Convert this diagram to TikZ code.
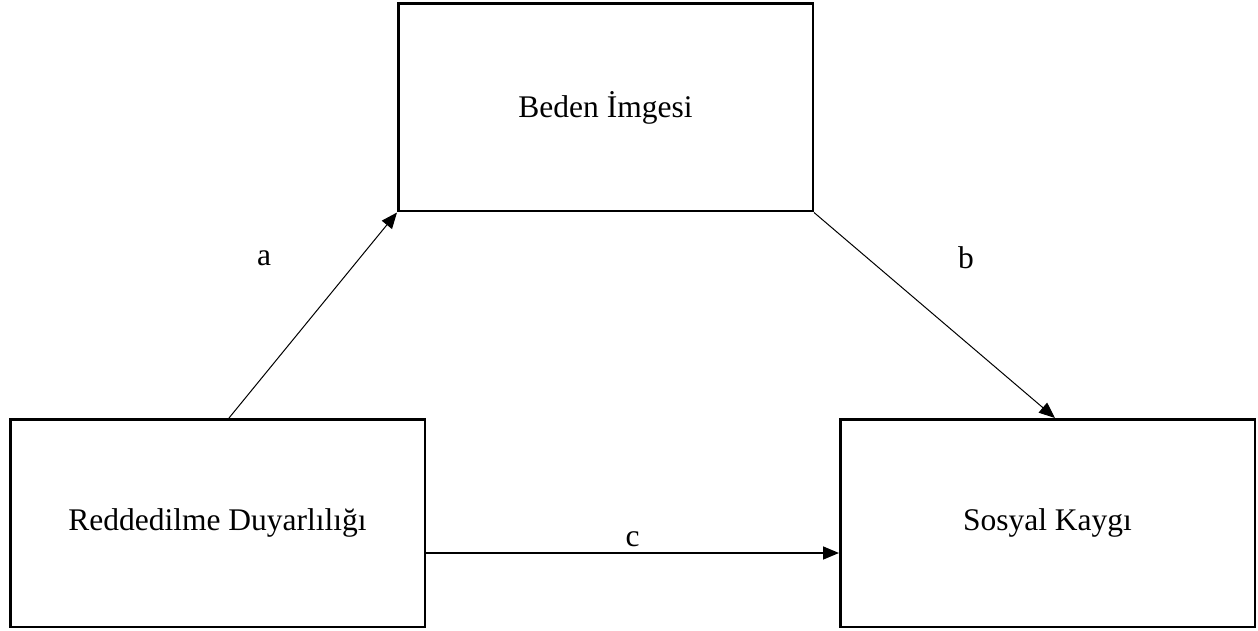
\documentclass[tikz,border=0pt]{standalone}
\usepackage{fontspec}
\setmainfont{Liberation Serif}
\usepackage{tikz}
\usetikzlibrary{positioning}
\usetikzlibrary{arrows.meta}
\tikzset{varbox/.style={draw, line width=2.5pt, rectangle, inner sep=0pt, minimum width=414.5pt, minimum height=207.5pt, font=\fontsize{31.5}{38}\selectfont},
  path/.style={->, >={Triangle[length=16pt, width=13pt]}, line width=1pt},
  plabel/.style={font=\fontsize{31.5}{38}\selectfont}}

\begin{document}
\begin{tikzpicture}[x=1pt, y=-1pt]
  \useasboundingbox (0, 0) rectangle (1258, 631);

  % variables
  \node (beden) at (605.5, 107.5) [varbox] {Beden İmgesi};
  \node (redd) at (217.5, 523) [varbox] {Reddedilme Duyarlılığı};
  \node (sosyal) at (1047.5, 523) [varbox] {Sosyal Kaygı};

  % paths
  \draw[path] ([xshift=11.5pt]redd.north) -- (beden.south west);
  \draw[path] (beden.south east) -- ([xshift=7.5pt]sosyal.north);
  \draw[path, line width=1.6pt] ([yshift=-30pt]redd.east) -- node[plabel, above=2pt] (lc) {c} ([yshift=-30pt]sosyal.west);
  \node (la) at (264, 258) [plabel] {a};
  \node (lb) at (966, 258) [plabel] {b};

\end{tikzpicture}
\end{document}
